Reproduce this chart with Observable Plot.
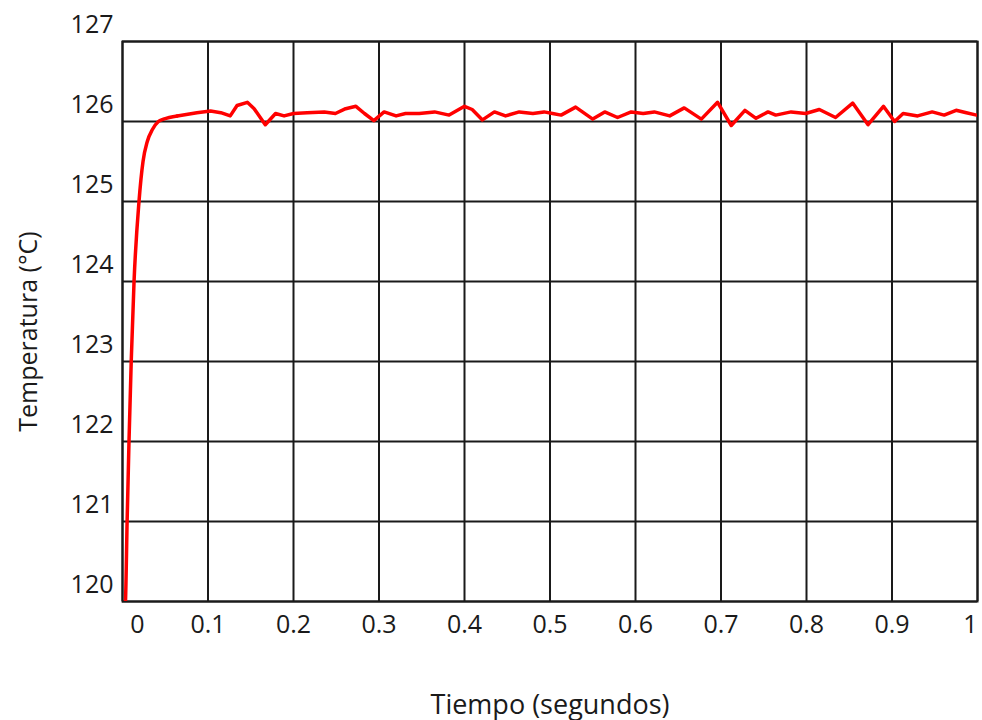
<!DOCTYPE html>
<html>
<head>
<meta charset="utf-8">
<script src="https://cdn.jsdelivr.net/npm/d3@7"></script>
<script src="https://cdn.jsdelivr.net/npm/@observablehq/plot@0.6"></script>
<style>
  html, body { margin: 0; padding: 0; background: #fff; }
  svg { display: block; }
</style>
</head>
<body>
<div id="chart"></div>
<script>
const time = [0.0030,0.0035,0.0054,0.0076,0.0102,0.0135,0.0193,0.024,0.029,0.035,0.042,0.048,0.064,0.087,0.103,0.115,0.126,0.134,0.146,0.154,0.167,0.179,0.189,0.200,0.216,0.236,0.249,0.261,0.273,0.283,0.294,0.306,0.320,0.331,0.347,0.365,0.382,0.400,0.409,0.421,0.435,0.448,0.464,0.480,0.493,0.503,0.513,0.530,0.550,0.564,0.579,0.595,0.609,0.622,0.640,0.657,0.677,0.696,0.712,0.728,0.741,0.755,0.764,0.782,0.799,0.815,0.834,0.854,0.872,0.890,0.903,0.913,0.930,0.947,0.961,0.975,0.987,0.999];
const temperature = [119.9,120.0,121.0,122.0,123.0,124.0,125.0,125.5,125.75,125.9,126.0,126.03,126.07,126.11,126.13,126.11,126.07,126.2,126.24,126.16,125.96,126.1,126.07,126.1,126.11,126.12,126.1,126.16,126.19,126.1,126.01,126.12,126.07,126.1,126.1,126.12,126.08,126.19,126.15,126.02,126.12,126.07,126.12,126.1,126.12,126.1,126.08,126.18,126.03,126.12,126.05,126.12,126.1,126.12,126.07,126.17,126.03,126.24,125.95,126.14,126.04,126.12,126.08,126.12,126.1,126.15,126.05,126.23,125.96,126.19,126.0,126.1,126.07,126.12,126.08,126.14,126.11,126.08];
const xTicks = [0,0.1,0.2,0.3,0.4,0.5,0.6,0.7,0.8,0.9,1];
const yTicks = [120,121,122,123,124,125,126,127];
const xTitle = "Tiempo (segundos)";
const yTitle = "Temperatura (°C)";

const data = time.map((t, i) => ({t, v: temperature[i]}));
const rise = data.filter(d => d.t <= 0.064);
const steady = data.filter(d => d.t >= 0.064);
const ink = "#1a1a1a";
const font = "'Open Sans', sans-serif";
const fmt = d => String(d);
const tickSize = 25;

const xMid = xTicks.filter(d => d > 0 && d < 1);

const chart = Plot.plot({
  width: 982,
  height: 720,
  marginLeft: 122,
  marginRight: 5,
  marginTop: 41,
  marginBottom: 119,
  style: {fontFamily: font, color: ink, background: "#fff"},
  x: {domain: [0, 1]},
  y: {domain: [120, 127]},
  marks: [
    Plot.gridX(xTicks, {stroke: ink, strokeOpacity: 1, strokeWidth: 2}),
    Plot.gridY(yTicks, {stroke: ink, strokeOpacity: 1, strokeWidth: 2}),
    Plot.frame({stroke: ink, strokeWidth: 2}),
    Plot.line(rise, {x: "t", y: "v", stroke: "#ff0000", strokeWidth: 3.5, curve: "monotone-x", clip: true}),
    Plot.line(steady, {x: "t", y: "v", stroke: "#ff0000", strokeWidth: 3.5, strokeLinejoin: "round", clip: true}),
    Plot.axisY(yTicks, {tickSize: 0, tickPadding: 9, dy: -17, fontSize: tickSize, label: null, fill: ink, tickFormat: fmt}),
    Plot.axisX(xMid, {tickSize: 0, tickPadding: 14, fontSize: tickSize, label: null, fill: ink, tickFormat: fmt}),
    Plot.axisX([0], {tickSize: 0, tickPadding: 14, dx: 15, fontSize: tickSize, label: null, fill: ink, tickFormat: fmt}),
    Plot.axisX([1], {tickSize: 0, tickPadding: 14, dx: -7, fontSize: tickSize, label: null, fill: ink, tickFormat: fmt}),
    Plot.text([xTitle], {frameAnchor: "bottom", dy: 112, fontSize: 27, fill: ink, lineAnchor: "bottom"}),
    Plot.text([yTitle], {frameAnchor: "left", textAnchor: "middle", dx: -94, dy: 10, rotate: -90, fontSize: 25, fill: ink})
  ]
});
document.getElementById("chart").appendChild(chart);
</script>
</body>
</html>
